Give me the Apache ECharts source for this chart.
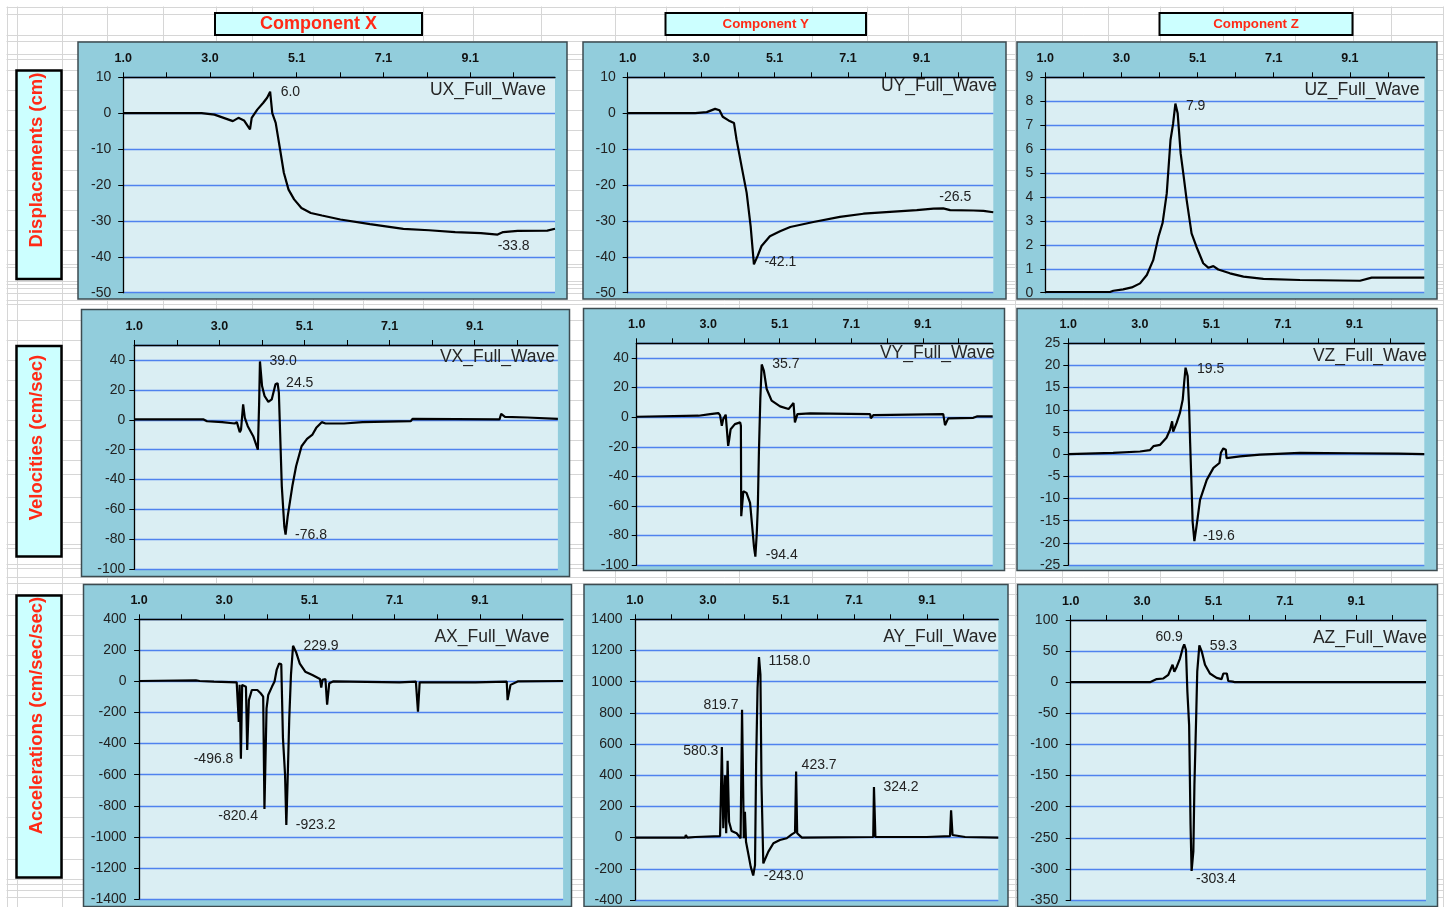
<!DOCTYPE html>
<html>
<head>
<meta charset="utf-8">
<script src="https://cdn.jsdelivr.net/npm/echarts@6/dist/echarts.min.js"></script>
<style>
  html, body { margin: 0; padding: 0; background: #ffffff; }
  #chart { width: 1447px; height: 907px; }
</style>
</head>
<body>
<div id="chart"></div>
<script>
// ---- time axis (seconds) ----
const X_MIN = 1.0;
const X_MAX = 11.08;
const TICK_TIMES = [1.0, 2.0125, 3.025, 4.0375, 5.05, 6.0625, 7.075, 8.0875, 9.1, 10.1125];
const LABEL_TIMES = [1.0, 3.025, 5.05, 7.075, 9.1];
const LABEL_TEXT = ['1.0', '3.0', '5.1', '7.1', '9.1'];

// ---- displacements (cm) ----
const UX = [[1.0,0],[2.83,0],[3.13,-0.4],[3.56,-2.2],[3.69,-1.3],[3.82,-2.0],[3.96,-4.5],[4.0,-1.3],[4.13,1.0],[4.27,2.9],[4.36,4.3],[4.43,6.0],[4.48,0],[4.56,-2.7],[4.65,-9.2],[4.75,-16.6],[4.86,-21.3],[4.99,-24.0],[5.16,-26.4],[5.38,-27.8],[5.64,-28.5],[6.07,-29.6],[6.76,-30.9],[7.54,-32.2],[8.14,-32.6],[8.75,-33.1],[9.35,-33.4],[9.74,-33.8],[9.87,-33.1],[10.21,-32.8],[10.9,-32.7],[11.08,-32.2]];
const UY = [[1.0,0],[2.86,0],[2.88,0.2],[3.18,0.3],[3.41,1.2],[3.53,0.8],[3.62,-1.0],[3.78,-2.0],[3.93,-2.7],[4.0,-7.3],[4.14,-14.8],[4.28,-22.2],[4.39,-31.5],[4.48,-42.1],[4.58,-39.8],[4.69,-37.0],[4.92,-34.3],[5.2,-32.9],[5.48,-31.7],[6.12,-30.3],[6.85,-28.9],[7.5,-28.0],[8.23,-27.5],[8.97,-27.0],[9.43,-26.6],[9.7,-26.5],[9.89,-27.0],[10.53,-27.1],[10.81,-27.2],[11.08,-27.6]];
const UZ = [[1.0,0.03],[2.72,0.03],[2.81,0.08],[3.07,0.14],[3.3,0.22],[3.52,0.39],[3.7,0.74],[3.87,1.36],[4.01,2.34],[4.12,2.92],[4.23,4.15],[4.33,6.38],[4.4,7.07],[4.46,7.9],[4.52,7.5],[4.6,5.82],[4.67,4.99],[4.76,3.87],[4.89,2.48],[5.02,1.92],[5.2,1.23],[5.34,1.04],[5.47,1.11],[5.6,0.97],[5.91,0.81],[6.27,0.67],[6.8,0.58],[7.77,0.53],[9.37,0.5],[9.68,0.63],[11.08,0.63]];

// ---- velocities (cm/sec) ----
const VX = [[1.0,0.3],[2.65,0.2],[2.73,-1.0],[3.09,-1.6],[3.39,-2.5],[3.44,-1.6],[3.51,-8.3],[3.54,-6.5],[3.59,10.3],[3.63,1.3],[3.7,-4.3],[3.83,-11.0],[3.94,-20.0],[3.97,10.3],[3.99,39.0],[4.04,22.6],[4.1,15.9],[4.19,12.0],[4.27,13.6],[4.36,23.7],[4.41,24.5],[4.44,18.1],[4.47,-8.7],[4.51,-44.5],[4.57,-71.4],[4.6,-76.8],[4.65,-64.6],[4.76,-44.5],[4.85,-31.1],[4.98,-17.7],[5.11,-12.8],[5.24,-9.9],[5.33,-5.4],[5.46,-1.6],[5.55,-2.5],[5.99,-2.5],[6.43,-1.6],[7.58,-0.9],[7.62,0.6],[7.66,-0.3],[9.69,0.2],[9.73,4.0],[9.82,2.0],[10.35,1.5],[10.39,0.6],[11.08,0.6]];
const VY = [[1.0,0.3],[2.75,1.0],[3.08,2.1],[3.31,2.8],[3.36,1.4],[3.41,-5.8],[3.45,-1.3],[3.52,1.7],[3.57,1.0],[3.59,-19.4],[3.62,-14.9],[3.66,-8.1],[3.78,-4.7],[3.93,-3.5],[3.95,-5.8],[3.96,-67.0],[4.02,-50.1],[4.11,-51.2],[4.21,-58.0],[4.27,-73.9],[4.32,-87.5],[4.36,-94.4],[4.4,-78.4],[4.43,-60.3],[4.46,-24.0],[4.5,12.3],[4.54,35.7],[4.6,31.6],[4.68,19.1],[4.82,11.2],[5.06,7.3],[5.3,5.5],[5.44,9.6],[5.48,-3.5],[5.55,2.1],[5.91,2.6],[7.61,2.1],[7.63,-0.8],[7.7,1.4],[9.68,2.1],[9.73,-5.4],[9.82,-0.8],[10.53,-0.4],[10.63,0.5],[11.08,0.5]];
const VZ = [[1.0,0],[2.27,0.3],[3.03,0.6],[3.31,0.9],[3.41,1.8],[3.6,2.1],[3.78,3.7],[3.88,5.5],[3.94,7.4],[3.97,5.1],[4.07,7.1],[4.16,9.3],[4.24,12.3],[4.28,16.1],[4.32,19.5],[4.38,17.6],[4.42,10.8],[4.45,2.5],[4.49,-7.3],[4.52,-15.2],[4.57,-19.6],[4.63,-16.3],[4.73,-10.3],[4.92,-5.8],[5.11,-3.1],[5.28,-2.0],[5.32,0.3],[5.39,1.3],[5.46,1.0],[5.48,-0.9],[5.86,-0.5],[6.43,-0.1],[7.56,0.3],[7.61,-0.1],[9.02,0.2],[10.34,0.1],[11.08,0]];

// ---- accelerations (cm/sec/sec) ----
const AX = [[1.0,3],[2.35,7],[2.44,3],[2.78,-1],[3.32,-6],[3.37,-260],[3.39,-22],[3.42,-496.8],[3.45,-22],[3.54,-34],[3.57,-441],[3.61,-120],[3.68,-55],[3.81,-55],[3.89,-76],[3.95,-98],[3.98,-820.4],[4.03,-173],[4.07,-87],[4.16,-33],[4.22,0],[4.27,74],[4.33,116],[4.38,110],[4.42,-365],[4.47,-600],[4.5,-923.2],[4.53,-645],[4.57,-237],[4.61,41],[4.66,229.9],[4.73,190],[4.82,115],[4.95,63],[5.12,41],[5.3,16],[5.33,-40],[5.36,10],[5.43,16],[5.47,-150],[5.52,-12],[5.61,0],[7.19,-6],[7.58,-1],[7.63,-195],[7.67,-6],[8.99,-6],[9.74,-1],[9.76,-120],[9.83,-22],[10.0,0],[11.08,3]];
const AY = [[1.0,0],[2.39,0],[2.41,17],[2.45,0],[2.67,4],[3.36,9],[3.41,580.3],[3.45,60],[3.5,400],[3.53,28],[3.57,493],[3.61,102],[3.68,43],[3.82,28],[3.93,-4],[3.97,819.7],[4.02,-4],[4.05,166],[4.08,-26],[4.15,-111],[4.21,-186],[4.28,-243.0],[4.33,-176],[4.36,466],[4.4,957],[4.44,1158.0],[4.48,1045],[4.51,337],[4.56,-165],[4.6,-154],[4.7,-90],[4.84,-36],[5.02,-15],[5.21,-4],[5.35,21],[5.44,34],[5.47,423.7],[5.5,28],[5.63,0],[7.61,4],[7.63,324.2],[7.67,4],[9.09,4],[9.74,9],[9.77,175],[9.81,17],[10.16,4],[10.21,0],[11.08,0]];
const AZ = [[1.0,0],[3.25,0],[3.3,2],[3.44,5],[3.63,6],[3.77,12],[3.89,28],[3.94,17],[4.01,25],[4.1,38],[4.18,55],[4.22,60.9],[4.27,52],[4.31,-15],[4.36,-69],[4.4,-229],[4.43,-303.4],[4.48,-272],[4.51,-165],[4.56,-55],[4.59,17],[4.65,59.3],[4.72,49],[4.81,28],[4.95,14],[5.14,7],[5.28,5],[5.33,14],[5.43,14],[5.47,2],[5.6,1],[5.66,0],[11.08,0]];

// ---- annotated peak values ----
const UX_PEAKS = [6.0, -33.8];
const UY_PEAKS = [-42.1, -26.5];
const UZ_PEAKS = [7.9];
const VX_PEAKS = [39.0, 24.5, -76.8];
const VY_PEAKS = [35.7, -94.4];
const VZ_PEAKS = [19.5, -19.6];
const AX_PEAKS = [229.9, -496.8, -820.4, -923.2];
const AY_PEAKS = [1158.0, 819.7, 580.3, 423.7, 324.2, -243.0];
const AZ_PEAKS = [60.9, 59.3, -303.4];

// ---- headings ----
const COMPONENTS = ['Component X', 'Component Y', 'Component Z'];
const QUANTITIES = ['Displacements (cm)', 'Velocities (cm/sec)', 'Accelerations (cm/sec/sec)'];

const FONT = "'Liberation Sans', Arial, sans-serif";

// panel layout: outer frame, plot rectangle, axis range, peak-label placement
const PANELS = [
  { name: 'UX_Full_Wave', data: UX, peaks: UX_PEAKS, y: [-50, 10, 10], margin: 12,
    frame: [78, 42, 489, 257], plot: [123.2, 77.3, 431.8, 215.4], title: [546, 90],
    place: [['right', 10, [0, 0]], ['bottom', 4, [16, 0]]] },
  { name: 'UY_Full_Wave', data: UY, peaks: UY_PEAKS, y: [-50, 10, 10], margin: 12,
    frame: [583, 42, 423, 257], plot: [627.7, 77.3, 365.6, 215.4], title: [997, 86],
    place: [['right', 10, [0, -2]], ['top', 4, [12, 0]]] },
  { name: 'UZ_Full_Wave', data: UZ, peaks: UZ_PEAKS, y: [0, 9, 1], margin: 12,
    frame: [1017, 42, 420, 257], plot: [1045.3, 77.3, 379, 215.4], title: [1419.5, 90],
    place: [['right', 10, [0, 3]]] },
  { name: 'VX_Full_Wave', data: VX, peaks: VX_PEAKS, y: [-100, 50, 20], margin: 9,
    frame: [81.5, 309.5, 488, 267], plot: [134.3, 345, 423.6, 224.3], title: [555, 357],
    place: [['right', 9, [0, 0]], ['right', 8, [0, 0]], ['right', 9, [0, 1]]] },
  { name: 'VY_Full_Wave', data: VY, peaks: VY_PEAKS, y: [-100, 50, 20], margin: 8,
    frame: [583.5, 308.5, 421, 262], plot: [636.7, 343.3, 356, 221.7], title: [995, 353],
    place: [['right', 10, [0, 0]], ['right', 10, [0, -2]]] },
  { name: 'VZ_Full_Wave', data: VZ, peaks: VZ_PEAKS, y: [-25, 25, 5], margin: 8,
    frame: [1017, 308.5, 420, 262], plot: [1068.3, 343.3, 356, 221.7], title: [1427, 356],
    place: [['right', 11, [0, 1]], ['right', 8, [0, -5]]] },
  { name: 'AX_Full_Wave', data: AX, peaks: AX_PEAKS, y: [-1400, 400, 200], margin: 12.5,
    frame: [83.5, 584.5, 488, 322], plot: [139.1, 619.3, 424, 279.7], title: [549.5, 637],
    place: [['right', 10, [0, 0]], ['left', 7, [0, 0]], ['left', 6, [0, 7]], ['right', 9, [0, 0]]] },
  { name: 'AY_Full_Wave', data: AY, peaks: AY_PEAKS, y: [-400, 1400, 200], margin: 12.5,
    frame: [584, 584.5, 424, 322], plot: [635, 619.3, 363.3, 280.7], title: [997, 637],
    place: [['right', 9, [0, 4]], ['left', 3, [0, -5]], ['left', 3, [0, 4]], ['right', 5, [0, -6]], ['right', 9, [0, 0]], ['right', 10, [0, 1]]] },
  { name: 'AZ_Full_Wave', data: AZ, peaks: AZ_PEAKS, y: [-350, 100, 50], margin: 12.5,
    frame: [1017.5, 584.5, 420, 322], plot: [1070.7, 620, 355.3, 280], title: [1427, 638],
    place: [['top', 4, [-15, 4]], ['right', 10, [0, 1]], ['right', 4, [0, 8]]] }
];

// spreadsheet cell borders behind the charts
const COL_X = [6.5, 16.5, 62, 106.5, 163, 216, 251.5, 312.5, 362.5, 423, 473, 541, 615, 666, 739, 812, 866.5, 908, 960.5, 1015, 1061.5, 1107.5, 1160, 1222.5, 1295, 1352.5, 1390.5, 1443];
const ROW_Y = [6.5, 13.5, 35, 40.5, 54, 58.5, 70, 90, 110, 130, 150, 170, 190, 210, 230, 250, 263.5, 266.5, 281, 284, 287.5, 292.5, 300, 304, 320, 340, 360, 380, 400, 420, 440, 460, 473.5, 496.5, 521.5, 543.5, 547.5, 563.5, 567.5, 576.5, 583, 593.5, 615, 635, 655, 675, 695, 715, 735, 755, 775, 796.5, 816.5, 836.5, 858.5, 878.5, 883.5, 890, 896.5];

function tickLabel(v) {
  let best = 0;
  LABEL_TIMES.forEach((t, i) => { if (Math.abs(t - v) < Math.abs(LABEL_TIMES[best] - v)) best = i; });
  return LABEL_TEXT[best];
}

const graphic = [];
COL_X.forEach(x => graphic.push({ type: 'line', silent: true, z: -20,
  shape: { x1: Math.round(x) + 0.5, y1: 6.5, x2: Math.round(x) + 0.5, y2: 907 },
  style: { stroke: '#d6d6d6', lineWidth: 1 } }));
ROW_Y.forEach(y => graphic.push({ type: 'line', silent: true, z: -20,
  shape: { x1: 6.5, y1: Math.round(y) + 0.5, x2: 1443, y2: Math.round(y) + 0.5 },
  style: { stroke: '#d6d6d6', lineWidth: 1 } }));

// column headings
const headBoxes = [[215, 13, 207, 22, 18], [665.5, 13, 200.5, 22, 13.3], [1159.5, 13, 193, 22, 13.3]];
headBoxes.forEach((b, i) => {
  graphic.push({ type: 'rect', silent: true, z: -5,
    shape: { x: b[0], y: b[1], width: b[2], height: b[3] },
    style: { fill: '#ccffff', stroke: '#000', lineWidth: 2 } });
  graphic.push({ type: 'text', silent: true, z: 5, x: b[0] + b[2] / 2, y: b[1] + b[3] / 2 + 0.5,
    style: { text: COMPONENTS[i], fill: '#ff2a16', font: 'bold ' + b[4] + 'px ' + FONT,
      textAlign: 'center', align: 'center', textVerticalAlign: 'middle', verticalAlign: 'middle' } });
});

// row headings (vertical text)
const rowBoxes = [[16.5, 70.5, 45, 208.5, 160], [16.5, 346, 45, 210.5, 437.5], [16.5, 595.5, 45, 282, 715.5]];
rowBoxes.forEach((b, i) => {
  graphic.push({ type: 'rect', silent: true, z: -5,
    shape: { x: b[0], y: b[1], width: b[2], height: b[3] },
    style: { fill: '#ccffff', stroke: '#000', lineWidth: 2.5 } });
  graphic.push({ type: 'text', silent: true, z: 5, x: 37, y: b[4], rotation: Math.PI / 2,
    style: { text: QUANTITIES[i], fill: '#ff2a16', font: 'bold 18.5px ' + FONT,
      textAlign: 'center', align: 'center', textVerticalAlign: 'middle', verticalAlign: 'middle' } });
});

const grids = [], xAxes = [], yAxes = [], series = [];
PANELS.forEach((p, i) => {
  graphic.push({ type: 'rect', silent: true, z: -5,
    shape: { x: p.frame[0], y: p.frame[1], width: p.frame[2], height: p.frame[3] },
    style: { fill: '#92cddc', stroke: '#3d4b50', lineWidth: 1.5 } });
  graphic.push({ type: 'text', silent: true, z: 10, x: p.title[0], y: p.title[1],
    style: { text: p.name, fill: '#262626', font: '17.5px ' + FONT,
      textAlign: 'right', align: 'right', textVerticalAlign: 'middle', verticalAlign: 'middle' } });

  grids.push({ left: p.plot[0], top: p.plot[1], width: p.plot[2], height: p.plot[3],
    show: true, backgroundColor: '#daeef3', borderWidth: 0, containLabel: false });

  xAxes.push({ gridIndex: i, type: 'value', position: 'top', min: X_MIN, max: X_MAX,
    axisLine: { show: true, onZero: false, lineStyle: { color: '#000', width: 1.3 } },
    axisTick: { show: true, inside: false, length: 5, customValues: TICK_TIMES, lineStyle: { color: '#000', width: 1 } },
    axisLabel: { show: true, customValues: LABEL_TIMES, formatter: tickLabel, fontFamily: FONT,
      fontWeight: 'bold', fontSize: 12.5, color: '#111', margin: 12 },
    splitLine: { show: false } });

  yAxes.push({ gridIndex: i, type: 'value', min: p.y[0], max: p.y[1], interval: p.y[2],
    axisLine: { show: true, onZero: false, lineStyle: { color: '#000', width: 1.3 } },
    axisTick: { show: true, inside: false, length: 5, lineStyle: { color: '#000', width: 1 } },
    axisLabel: { fontFamily: FONT, fontSize: 14, color: '#222', margin: p.margin,
      formatter: v => String(v),
      showMaxLabel: (p.y[1] - p.y[0]) % p.y[2] === 0 },
    splitLine: { show: true, lineStyle: { color: '#4f82ee', width: 1.3 } } });

  const marks = p.peaks.map((v, k) => {
    const pt = p.data.find(d => d[1] === v);
    const pl = p.place[k];
    return { coord: [pt[0], pt[1]], value: pt[1],
      label: { position: pl[0], distance: pl[1], offset: pl[2] } };
  });

  series.push({ type: 'line', xAxisIndex: i, yAxisIndex: i, data: p.data,
    showSymbol: false, animation: false, silent: true, z: 3,
    lineStyle: { color: '#000', width: 2.2 },
    markPoint: { symbol: 'circle', symbolSize: 1, silent: true, animation: false,
      itemStyle: { color: 'rgba(0,0,0,0)' },
      label: { show: true, fontFamily: FONT, fontSize: 14, color: '#222',
        formatter: q => Number(q.value).toFixed(1) },
      data: marks } });
});

const chart = echarts.init(document.getElementById('chart'), null, { renderer: 'canvas' });
chart.setOption({
  backgroundColor: '#ffffff',
  animation: false,
  graphic: graphic,
  grid: grids,
  xAxis: xAxes,
  yAxis: yAxes,
  series: series
});
</script>
</body>
</html>
